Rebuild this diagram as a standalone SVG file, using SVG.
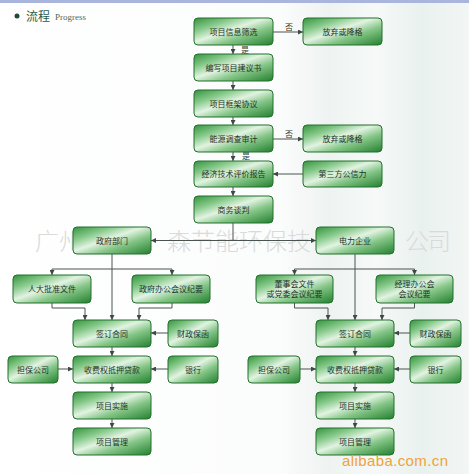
<svg xmlns="http://www.w3.org/2000/svg" width="469" height="474" viewBox="0 0 469 474">
<defs>
<linearGradient id="bg" x1="0" y1="0" x2="1" y2="0">
<stop offset="0" stop-color="#ffffff"/>
<stop offset="0.6" stop-color="#fbfcfc"/>
<stop offset="0.7" stop-color="#eef3f1"/>
<stop offset="0.8" stop-color="#f6f9f8"/>
<stop offset="0.9" stop-color="#e9f1ee"/>
<stop offset="1" stop-color="#f2f6f4"/>
</linearGradient>
<linearGradient id="g" x1="0" y1="0" x2="1" y2="1">
<stop offset="0" stop-color="#35933f"/>
<stop offset="0.25" stop-color="#86c98a"/>
<stop offset="0.45" stop-color="#e2f3e2"/>
<stop offset="0.65" stop-color="#86c688"/>
<stop offset="1" stop-color="#23802f"/>
</linearGradient>
<marker id="a" viewBox="0 0 6 6" refX="6" refY="3" markerWidth="5" markerHeight="5" orient="auto">
<path d="M0,0 L6,3 L0,6 z" fill="#3d4a44"/>
</marker>
</defs>
<style>
.n rect{fill:url(#g);stroke:#22702c;stroke-width:1}
.n text{font-family:"Noto Sans CJK SC","Noto Sans",sans-serif;font-size:8px;fill:#24342a;text-anchor:middle}
#connectors path{fill:none;stroke:#4a5550;stroke-width:1}
#connectors path.ar{marker-end:url(#a)}
.lb{font-family:"Noto Sans CJK SC",sans-serif;font-size:8px;fill:#2b3a30}
.wm{font-family:"Noto Sans CJK SC",sans-serif;font-size:24px;fill:#d9dbda;font-weight:300}
</style>
<rect width="469" height="474" fill="url(#bg)"/>
<rect width="469" height="3" fill="#a9b5dc"/>
<g id="header">
<circle cx="17" cy="16" r="2.5" fill="#1f4a3a"/>
<text x="26" y="21" font-family="Noto Sans CJK SC,sans-serif" font-size="12" fill="#2a5a48">流程</text>
<text x="55" y="20" font-family="Liberation Serif,serif" font-size="9" fill="#4a6a5a">Progress</text>
</g>
<g id="watermark">
<text class="wm" x="35" y="250">广州</text>
<text class="wm" x="167 191 215 239 263 287" y="250">森节能环保技</text>
<text class="wm" x="405 427" y="250" font-size="22">公司</text>
</g>
<g id="connectors">
<path class="ar" d="M233,45V54"/>
<path class="ar" d="M233,81V90"/>
<path class="ar" d="M233,117V125"/>
<path class="ar" d="M233,152V161"/>
<path class="ar" d="M233,187V196"/>
<path class="ar" d="M273,32H303"/>
<path class="ar" d="M273,139H303"/>
<path class="ar" d="M303,174H273"/>
<path d="M233,223V240.5"/>
<path class="ar" d="M233,240.5H151"/>
<path class="ar" d="M233,240.5H316"/>
<path class="ar" d="M112,254V320"/>
<path d="M52,269H172"/>
<path class="ar" d="M52,269V275"/>
<path class="ar" d="M172,269V275"/>
<path class="ar" d="M52,303V308H85V320"/>
<path class="ar" d="M172,303V308H139V320"/>
<path class="ar" d="M168,333H151"/>
<path class="ar" d="M112,347V356"/>
<path class="ar" d="M58,369H73"/>
<path class="ar" d="M168,369H151"/>
<path class="ar" d="M112,383V392"/>
<path class="ar" d="M112,419V428"/>
<path class="ar" d="M355,254V320"/>
<path d="M294.5,269H414.5"/>
<path class="ar" d="M294.5,269V275"/>
<path class="ar" d="M414.5,269V275"/>
<path class="ar" d="M294.5,303V308H328V320"/>
<path class="ar" d="M414.5,303V308H382V320"/>
<path class="ar" d="M410,333H394"/>
<path class="ar" d="M355,347V356"/>
<path class="ar" d="M300,369H316"/>
<path class="ar" d="M410,369H394"/>
<path class="ar" d="M355,383V392"/>
<path class="ar" d="M355,419V428"/>
<text class="lb" x="285" y="30">否</text>
<text class="lb" x="285" y="137">否</text>
<text class="lb" x="241" y="53">是</text>
<text class="lb" x="242" y="159">是</text>
</g>
<g id="n1" class="n"><rect x="194" y="18" width="79" height="27" rx="4"/><text x="233.5" y="35">项目信息筛选</text></g>
<g id="n2" class="n"><rect x="303" y="18" width="79" height="27" rx="4"/><text x="342.5" y="35">放弃或降格</text></g>
<g id="n3" class="n"><rect x="194" y="54" width="79" height="27" rx="4"/><text x="233.5" y="71">编写项目建议书</text></g>
<g id="n4" class="n"><rect x="194" y="90" width="79" height="27" rx="4"/><text x="233.5" y="107">项目框架协议</text></g>
<g id="n5" class="n"><rect x="194" y="125" width="79" height="27" rx="4"/><text x="233.5" y="142">能源调查审计</text></g>
<g id="n6" class="n"><rect x="303" y="125" width="79" height="27" rx="4"/><text x="342.5" y="142">放弃或降格</text></g>
<g id="n7" class="n"><rect x="194" y="161" width="79" height="26" rx="4"/><text x="233.5" y="177">经济技术评价报告</text></g>
<g id="n8" class="n"><rect x="303" y="161" width="79" height="26" rx="4"/><text x="342.5" y="177">第三方公信力</text></g>
<g id="n9" class="n"><rect x="194" y="196" width="79" height="27" rx="4"/><text x="233.5" y="213">商务谈判</text></g>
<g id="gov" class="n"><rect x="73" y="227" width="78" height="27" rx="4"/><text x="112" y="244">政府部门</text></g>
<g id="ent" class="n"><rect x="316" y="227" width="78" height="27" rx="4"/><text x="355" y="244">电力企业</text></g>
<g id="l1" class="n"><rect x="13" y="275" width="78" height="28" rx="4"/><text x="52" y="292">人大批准文件</text></g>
<g id="l2" class="n"><rect x="132" y="275" width="78" height="28" rx="4"/><text x="171" y="292">政府办公会议纪要</text></g>
<g id="r1" class="n"><rect x="256" y="275" width="77" height="28" rx="4"/><text x="294.5" y="287">董事会文件</text><text x="294.5" y="297">或党委会议纪要</text></g>
<g id="r2" class="n"><rect x="376" y="275" width="77" height="28" rx="4"/><text x="414.5" y="287">经理办公会</text><text x="414.5" y="297">会议纪要</text></g>
<g id="l3" class="n"><rect x="73" y="320" width="78" height="27" rx="4"/><text x="112" y="337">签订合同</text></g>
<g id="l4" class="n"><rect x="168" y="320" width="50" height="27" rx="4"/><text x="193" y="337">财政保函</text></g>
<g id="l5" class="n"><rect x="73" y="356" width="78" height="27" rx="4"/><text x="112" y="373">收费权抵押贷款</text></g>
<g id="l6" class="n"><rect x="8" y="356" width="50" height="27" rx="4"/><text x="33" y="373">担保公司</text></g>
<g id="l7" class="n"><rect x="168" y="356" width="50" height="27" rx="4"/><text x="193" y="373">银行</text></g>
<g id="l8" class="n"><rect x="73" y="392" width="78" height="27" rx="4"/><text x="112" y="409">项目实施</text></g>
<g id="l9" class="n"><rect x="73" y="428" width="78" height="27" rx="4"/><text x="112" y="445">项目管理</text></g>
<g id="r3" class="n"><rect x="316" y="320" width="78" height="27" rx="4"/><text x="355" y="337">签订合同</text></g>
<g id="r4" class="n"><rect x="410" y="320" width="51" height="27" rx="4"/><text x="435.5" y="337">财政保函</text></g>
<g id="r5" class="n"><rect x="316" y="356" width="78" height="27" rx="4"/><text x="355" y="373">收费权抵押贷款</text></g>
<g id="r6" class="n"><rect x="248" y="356" width="52" height="27" rx="4"/><text x="274" y="373">担保公司</text></g>
<g id="r7" class="n"><rect x="410" y="356" width="51" height="27" rx="4"/><text x="435.5" y="373">银行</text></g>
<g id="r8" class="n"><rect x="316" y="392" width="78" height="27" rx="4"/><text x="355" y="409">项目实施</text></g>
<g id="r9" class="n"><rect x="316" y="428" width="78" height="27" rx="4"/><text x="355" y="445">项目管理</text></g>
<text x="342" y="466" font-family="Liberation Sans,sans-serif" font-size="15" fill="#f0a23a" textLength="106">alibaba.com.cn</text>
</svg>
